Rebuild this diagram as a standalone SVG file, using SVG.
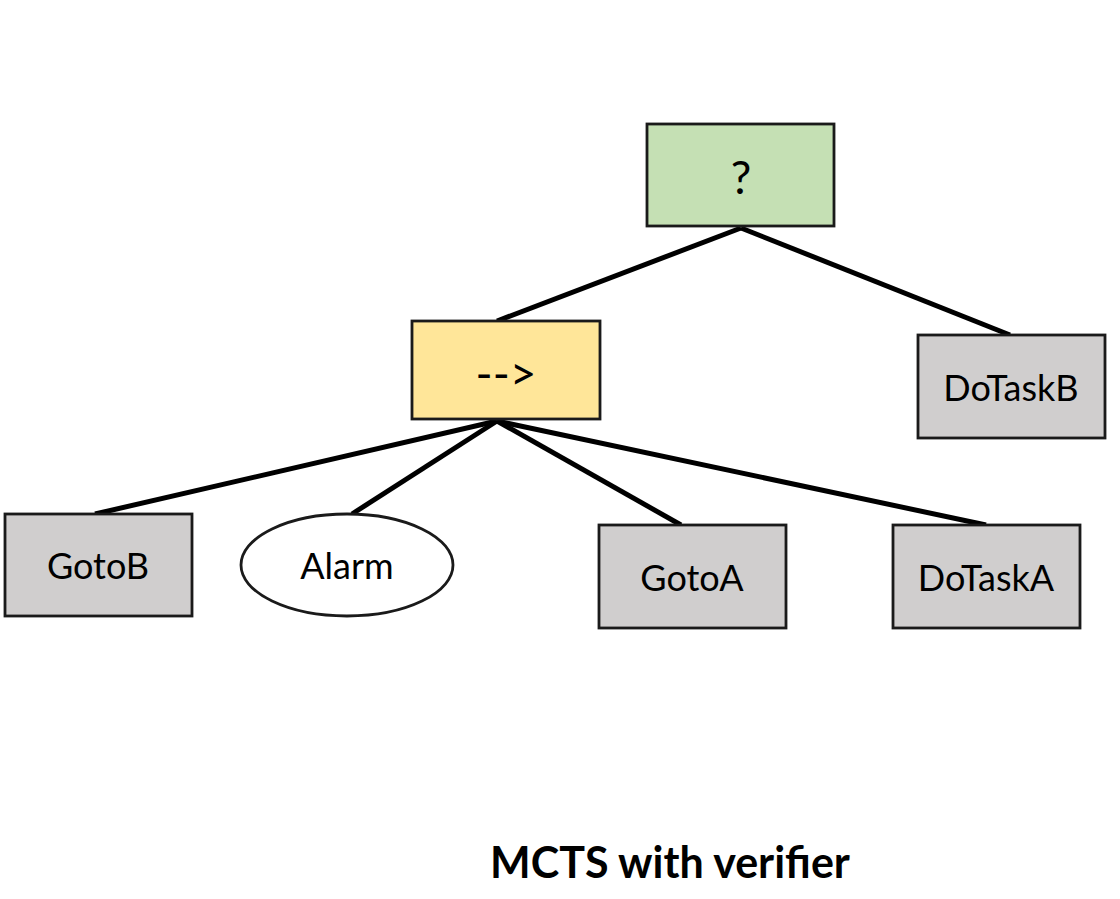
<svg xmlns="http://www.w3.org/2000/svg" width="1120" height="899" viewBox="0 0 1120 899">
<style>
.n{stroke:#1a1a1a;stroke-width:2.8}
.g{fill:#D0CECE}
.t{font-family:Lato,"Liberation Sans",sans-serif;font-size:36px;fill:#000;text-anchor:middle;dominant-baseline:central}
.e{stroke:#000;stroke-width:5;stroke-linecap:butt;fill:none}
</style>
<rect width="1120" height="899" fill="#fff"/>
<g id="connectors">
<line class="e" x1="741" y1="228" x2="497" y2="321"/>
<line class="e" x1="741" y1="228" x2="1010" y2="335"/>
<line class="e" x1="497" y1="421" x2="95" y2="514"/>
<line class="e" x1="497" y1="421" x2="352" y2="514"/>
<line class="e" x1="497" y1="421" x2="681" y2="525"/>
<line class="e" x1="497" y1="421" x2="986" y2="525"/>
</g>
<g id="root">
<rect class="n" x="647" y="124" width="187" height="102" fill="#C5E0B4"/>
<text class="t" x="741" y="176" style="font-size:46px">?</text>
</g>
<g id="sequence">
<rect class="n" x="412" y="321" width="188" height="98" fill="#FFE699"/>
<text class="t" x="506" y="372" style="font-size:46px">--&gt;</text>
</g>
<g id="dotaskb">
<rect class="n g" x="918" y="335" width="187" height="103"/>
<text class="t" x="1011" y="387">DoTaskB</text>
</g>
<g id="gotob">
<rect class="n g" x="5" y="514" width="187" height="102"/>
<text class="t" x="98" y="565">GotoB</text>
</g>
<g id="alarm">
<ellipse class="n" cx="347" cy="565" rx="106" ry="51" fill="#fff"/>
<text class="t" x="347" y="565">Alarm</text>
</g>
<g id="gotoa">
<rect class="n g" x="599" y="525" width="187" height="103"/>
<text class="t" x="692" y="577">GotoA</text>
</g>
<g id="dotaska">
<rect class="n g" x="893" y="525" width="187" height="103"/>
<text class="t" x="986" y="577">DoTaskA</text>
</g>
<text x="670" y="878" style="font-family:Lato,'Liberation Sans',sans-serif;font-size:43px;font-weight:bold;text-anchor:middle">MCTS with verifier</text>
</svg>
